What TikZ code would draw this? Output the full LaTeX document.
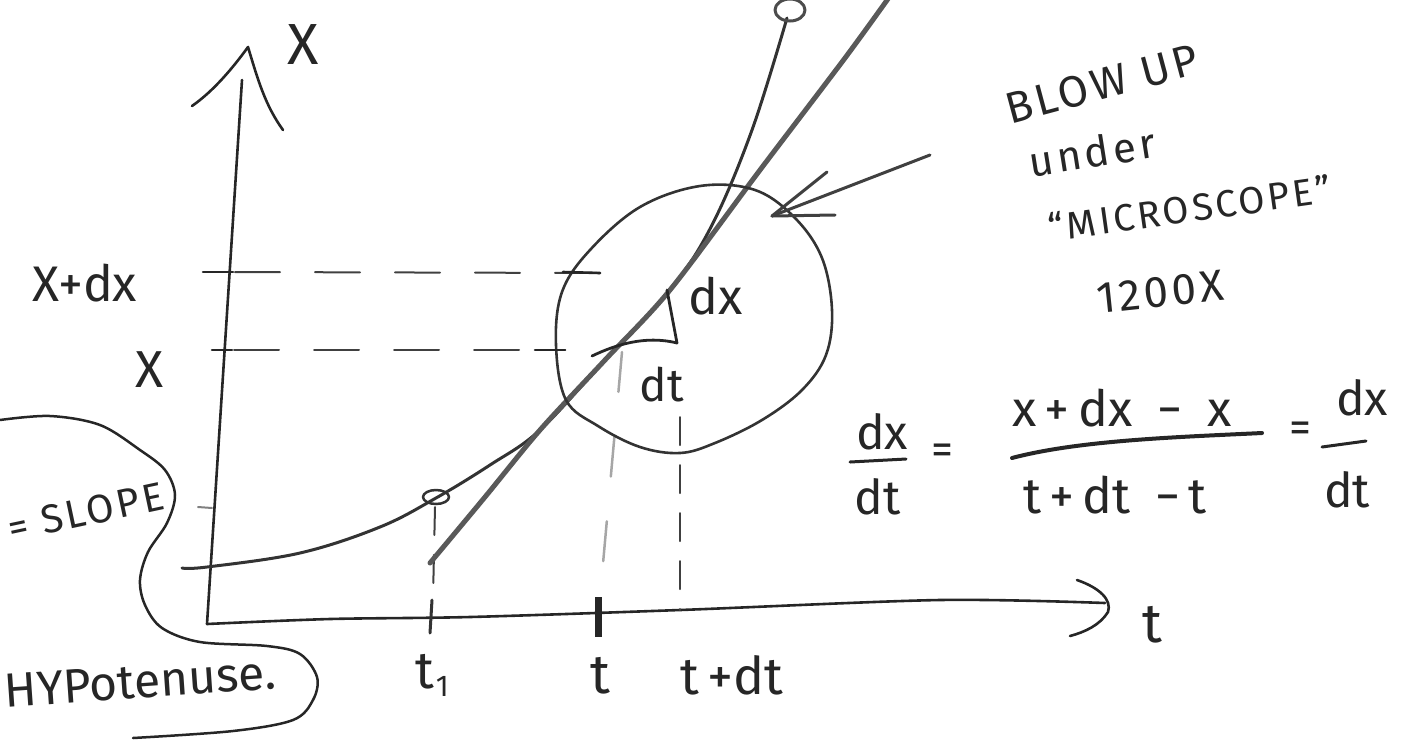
\documentclass[tikz,border=0pt]{standalone}
\usepackage{fontspec}
\setmainfont{Fira Sans}
\newfontfamily\widefont[LetterSpace=8]{Fira Sans}
\begin{document}
\begin{tikzpicture}[x=1pt,y=-1pt,line cap=round,line join=round,
  pen/.style={line width=2.6pt,black!85},
  heavy/.style={line width=5pt,black!65},
  thinpen/.style={line width=2pt,black!80},
  dashline/.style={line width=2pt,black!75,dash pattern=on 45pt off 35pt},
  dashfine/.style={line width=2pt,black!75,dash pattern=on 28pt off 20pt},
  faintdash/.style={line width=2.5pt,black!35,dash pattern=on 40pt off 45pt},
  lbl/.style={inner sep=0pt,text=black!85,font=\fontsize{#1pt}{#1pt}\selectfont},
  lbl/.default=50,
  wlbl/.style={inner sep=0pt,text=black!85,font=\widefont\fontsize{#1pt}{#1pt}\selectfont},
  wlbl/.default=46]
\useasboundingbox (0,0) rectangle (1413,740);

% ---------- axes ----------
\coordinate (O) at (207,624);
\coordinate (Ytop) at (242,80);
\coordinate (Yapex) at (248,47);
\coordinate (YarmL) at (192,106);
\coordinate (YarmR) at (283,130);
\draw[pen] (O) -- (Ytop);
\draw[pen] (YarmL) .. controls (215,90) and (235,65) .. (Yapex)
           .. controls (258,80) and (265,105) .. (YarmR);
\coordinate (Xend) at (1105,603);
\draw[pen] plot[smooth] coordinates {(O) (330,619) (470,617) (680,610) (940,600) (Xend)};
\coordinate (XarmU) at (1077,580);
\coordinate (XarmD) at (1070,636);
\draw[pen] (XarmU) .. controls (1100,588) and (1112,600) .. (1108,612)
           .. controls (1100,625) and (1085,632) .. (XarmD);

% axis ticks
\draw[pen] (203,272) -- (233,272);
\draw[pen] (212,350) -- (232,350);
\draw[thinpen,black!50] (198,507) -- (212,508);
\draw[line width=3pt,black!80] (432,600) -- (430,633);
\draw[line width=7pt,black!85,line cap=butt] (598,597) -- (598,637);

% axis labels
\node[lbl=58] (lx) at (303,45) {X};
\node[lbl=50] (lxdx) at (85,283) {X+dx};
\node[lbl=52] (lxx) at (150,370) {X};
\node[lbl=55] (lt) at (1152,625) {t};
\node[lbl=52] (lt1) at (432,675) {t\kern2pt\raisebox{-8pt}{\fontsize{30pt}{30pt}\selectfont 1}};
\node[lbl=55] (ltt) at (600,676) {t};
\node[lbl=52] (ltdt) at (732,675) {t\,+dt};

% ---------- dashed guide lines ----------
\draw[dashline] (235,272) -- (600,273);
\draw[dashline] (234,350) -- (565,350);
\draw[dashfine] (435,507) -- (433,598);
\draw[faintdash] (622,352) -- (600,597);
\draw[dashfine] (680,417) -- (680,610);

% ---------- curve and tangent ----------
\draw[line width=3pt,black!80] plot[smooth,tension=0.6] coordinates
  {(182,568) (207,567) (300,553) (380,527) (436,498) (490,465) (540,430)
   (605,360) (670,290) (712,225) (752,130) (787,18)};
\draw[line width=2.5pt,black!80] (436,497) ellipse [x radius=13pt,y radius=7pt];
\draw[line width=3pt,black!70] (790,10) ellipse [x radius=15pt,y radius=11pt];
\draw[heavy] plot[smooth,tension=0.5] coordinates
  {(430,563) (485,497) (540,430) (605,360) (670,290) (760,170) (845,58) (890,-4)};

% ---------- microscope circle ----------
\draw[line width=2.6pt,black!80] plot[smooth cycle,tension=0.6] coordinates
  {(556,345) (562,292) (590,250) (640,207) (700,186) (755,190) (795,218)
   (822,258) (832,310) (826,355) (802,390) (762,420) (715,443) (680,453)
   (640,447) (598,426) (566,400)};
\draw[pen] (563,272) -- (600,273);
\draw[pen] (535,350) -- (565,350);

% small triangle
\coordinate (TA) at (592,356);
\coordinate (TB) at (677,343);
\coordinate (TC) at (667,290);
\draw[line width=2.8pt,black!85] (TA) .. controls (615,345) and (645,335) .. (TB) -- (TC);
\node[lbl=50] (ldx) at (716,296) {dx};
\node[lbl=46] (ldt) at (662,385) {dt};

% arrow to circle
\coordinate (Atip) at (772,216);
\coordinate (Atail) at (930,155);
\draw[line width=3pt,black!75] (Atail) -- (Atip);
\draw[line width=3pt,black!75] (827,172) -- (Atip) -- (835,215);

% microscope note
\node[wlbl=44,rotate=15] (nblow) at (1102,84) {BLOW UP};
\node[wlbl=42,rotate=9] (nunder) at (1092,152) {under};
\node[wlbl=38,rotate=8] (nmicro) at (1190,208) {“MICROSCOPE”};
\node[wlbl=44,rotate=6] (n1200) at (1160,292) {1200X};

% ---------- equation ----------
\node[lbl=48] (e1n) at (882,432) {dx};
\draw[line width=3pt,black!85] (850,462) -- (906,459);
\node[lbl=48] (e1d) at (878,497) {dt};
\node[lbl=44] (eq1) at (942,454) {=};
\node[lbl=50] (e2n) at (1122,408) {x\,+\,dx\enspace−\enspace x};
\draw[line width=4pt,black!85] (1012,458) .. controls (1080,440) and (1180,437) .. (1262,433);
\node[lbl=50] (e2d) at (1115,495) {t\,+\,dt\enspace−\,t};
\node[lbl=44] (eq2) at (1300,432) {=};
\node[lbl=48] (e3n) at (1362,398) {dx};
\draw[line width=3pt,black!85] (1322,447) -- (1366,441);
\node[lbl=48] (e3d) at (1347,490) {dt};

% ---------- left note ----------
\node[wlbl=40,rotate=12] (nslope) at (86,512) {= SLOPE};
\node[lbl=48,rotate=4] (nhyp) at (140,682) {HYPotenuse.};
\draw[line width=2.5pt,black!85] plot[smooth,tension=0.55] coordinates
  {(0,420) (50,416) (100,425) (140,450) (165,470) (175,495) (167,523)
   (148,552) (140,580) (145,605) (162,628) (200,642) (267,646) (300,654)
   (317,677) (313,700) (293,720) (233,731) (133,738)};
\end{tikzpicture}
\end{document}
